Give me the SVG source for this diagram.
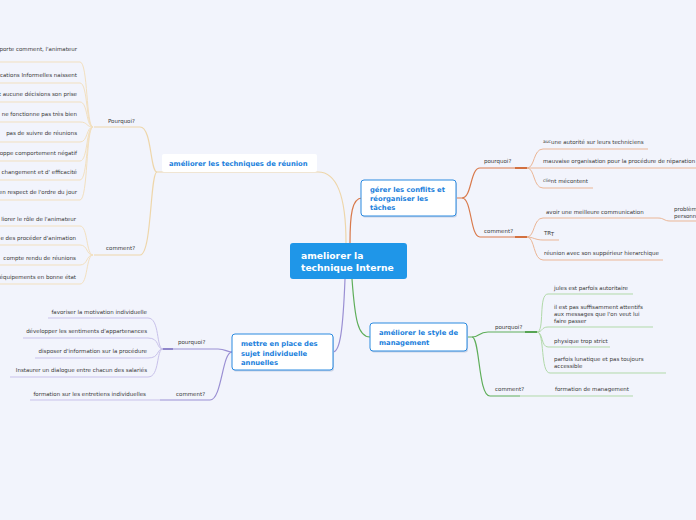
<svg xmlns="http://www.w3.org/2000/svg" width="696" height="520" viewBox="0 0 696 520">
<style>
.leaf{font-family:"DejaVu Sans",Verdana,sans-serif;font-size:5.5px;fill:#383838}
.end{text-anchor:end}
.nt{font-family:"DejaVu Sans",Verdana,sans-serif;font-size:6.8px;font-weight:bold;fill:#1b7fdc}
.ct{font-family:"DejaVu Sans",Verdana,sans-serif;font-size:9.2px;font-weight:bold;fill:#ffffff}
.box{fill:#ffffff;stroke:#2a8ae0;stroke-width:1}
.sh{fill:#c9d3e6}
.c{fill:none}
.be{stroke:#eed6aa;stroke-width:1.2}
.bel{stroke:#f2e0bf;stroke-width:1}
.or{stroke:#d97a4c;stroke-width:1.2}
.orl{stroke:#ebb696;stroke-width:1}
.gr{stroke:#5fae5a;stroke-width:1.2}
.grl{stroke:#b1d9a9;stroke-width:1}
.pu{stroke:#9a8fd3;stroke-width:1.2}
.pul{stroke:#c8c1ea;stroke-width:1}
</style>
<rect width="696" height="520" fill="#f2f4fc"/>
<g id="connectors">
<path class="c be" d="M346,243 C346,205 340,172 318,172 L157,172"/>
<path class="c be" d="M157,172 C150,172 152,127 140,127 L94,127"/>
<path class="c be" d="M157,172 C150,172 152,255 140,255 L94,255"/>
<path class="c bel" d="M0,62 L80,62 C88,62 86,127 93,127"/>
<path class="c bel" d="M0,83 L80,83 C88,83 86,127 93,127"/>
<path class="c bel" d="M0,102 L80,102 C88,102 86,127 93,127"/>
<path class="c bel" d="M0,122 L80,122 C88,122 86,127 93,127"/>
<path class="c bel" d="M0,142 L80,142 C88,142 86,127 93,127"/>
<path class="c bel" d="M0,161 L80,161 C88,161 86,127 93,127"/>
<path class="c bel" d="M0,180 L80,180 C88,180 86,127 93,127"/>
<path class="c bel" d="M0,200 L80,200 C88,200 86,127 93,127"/>
<path class="c bel" d="M0,226 L80,226 C88,226 86,255 93,255"/>
<path class="c bel" d="M0,245 L80,245 C88,245 86,255 93,255"/>
<path class="c bel" d="M0,265 L80,265 C88,265 86,255 93,255"/>
<path class="c bel" d="M0,284 L80,284 C88,284 86,255 93,255"/>
<path class="c or" d="M350,243 C350,215 352,198 362,198"/>
<path class="c or" d="M456,198 L462,198 C472,198 470,168 480,168 L527,168"/>
<path class="c or" d="M462,198 C472,198 470,237 480,237 L527,237"/>
<path class="c" stroke="#d2703f" stroke-width="1.8" d="M515,168 L527,168 M515,237 L527,237"/>
<path class="c orl" d="M527,168 C535,168 533,149 543,149 L648,149"/>
<path class="c orl" d="M527,168 L696,168"/>
<path class="c orl" d="M527,168 C535,168 533,188 543,188 L593,188"/>
<path class="c orl" d="M527,237 C535,237 533,218 543,218 L658,218 C664,218 664,221 670,221 L696,221"/>
<path class="c orl" d="M527,237 C533,237 535,240 543,240 L559,240"/>
<path class="c orl" d="M527,237 C535,237 533,260 543,260 L663,260"/>
<path class="c gr" d="M352,279 C355,320 358,337 370,337"/>
<path class="c gr" d="M467,337 L472,337 C480,337 478,332 488,332 L537,332"/>
<path class="c gr" d="M472,337 C480,337 478,396 490,396 L520,396"/>
<path class="c" stroke="#4f9f4a" stroke-width="1.8" d="M525,332 L537,332"/>
<path class="c grl" d="M520,396 L633,396"/>
<path class="c grl" d="M537,332 C545,332 538,294 548,294 L633,294"/>
<path class="c grl" d="M537,332 C543,332 541,327 548,327 L653,327"/>
<path class="c grl" d="M537,332 C543,332 541,347 548,347 L610,347"/>
<path class="c grl" d="M537,332 C545,332 540,373 550,373 L666,373"/>
<path class="c pu" d="M345,279 C343,330 340,352 333,352"/>
<path class="c pu" d="M232,352 C226,352 226,349 218,349 L162,349"/>
<path class="c pu" d="M232,352 C222,352 222,400 210,400 L160,400"/>
<path class="c" stroke="#8a7fc8" stroke-width="1.8" d="M162,349 L173,349"/>
<path class="c pul" d="M160,400 L30,400"/>
<path class="c pul" d="M163,349 C156,349 160,318 148,318 L48,318"/>
<path class="c pul" d="M163,349 C156,349 160,338 148,338 L23,338"/>
<path class="c pul" d="M163,349 C156,349 160,358 148,358 L35,358"/>
<path class="c pul" d="M163,349 C156,349 160,377 148,377 L10,377"/>
</g>
<g id="center">
<rect x="290" y="243" width="117" height="36" rx="3" fill="#1f96e8"/>
<text class="ct" x="301" y="259">ameliorer la</text>
<text class="ct" x="301" y="271">technique Interne</text>
</g>
<g id="n-reunion">
<rect x="162" y="154" width="155" height="18" rx="2" fill="#ffffff"/>
<text class="nt" x="169" y="165.5">améliorer les techniques de réunion</text>
</g>
<g id="n-conflits">
<rect class="sh" x="362" y="181.5" width="95" height="36" rx="3"/>
<rect class="box" x="361" y="180" width="95" height="36" rx="3"/>
<text class="nt" x="370" y="192">gérer les conflits et</text>
<text class="nt" x="370" y="201">réorganiser les</text>
<text class="nt" x="370" y="210">tâches</text>
</g>
<g id="n-management">
<rect class="sh" x="371" y="324.5" width="97" height="28" rx="3"/>
<rect class="box" x="370" y="323" width="97" height="28" rx="3"/>
<text class="nt" x="379" y="335">améliorer le style de</text>
<text class="nt" x="379" y="345">management</text>
</g>
<g id="n-sujet">
<rect class="sh" x="233" y="335.5" width="101" height="36" rx="3"/>
<rect class="box" x="232" y="334" width="101" height="36" rx="3"/>
<text class="nt" x="241" y="346">mettre en place des</text>
<text class="nt" x="241" y="355.5">sujet individuelle</text>
<text class="nt" x="241" y="365">annuelles</text>
</g>
<g id="n-reunion-pourquoi">
<text class="leaf" x="108" y="123">Pourquoi?</text>
<text class="leaf end" x="77" y="51">porte comment, l'animateur</text>
<text class="leaf end" x="77" y="77">cations Informelles naissent</text>
<text class="leaf end" x="77" y="96">t aucune décisions son prise</text>
<text class="leaf end" x="77" y="116">ne fonctionne pas très bien</text>
<text class="leaf end" x="77" y="135">pas de suivre de réunions</text>
<text class="leaf end" x="77" y="155">oppe comportement négatif</text>
<text class="leaf end" x="77" y="174">changement et d' efficacité</text>
<text class="leaf end" x="77" y="194">en respect de l'ordre du jour</text>
</g>
<g id="n-reunion-comment">
<text class="leaf" x="106" y="250">comment?</text>
<text class="leaf end" x="76" y="221">liorer le rôle de l'animateur</text>
<text class="leaf end" x="76" y="240">e des procéder d'animation</text>
<text class="leaf end" x="76" y="260">compte rendu de réunions</text>
<text class="leaf end" x="76" y="279">équipements en bonne état</text>
</g>
<g id="n-conflits-pourquoi">
<text class="leaf" x="484" y="163">pourquoi?</text>
<text class="leaf" x="543" y="144"><tspan font-size="4.5" dy="-1">auc</tspan><tspan dy="1">une autorité sur leurs techniciens</tspan></text>
<text class="leaf" x="543" y="163">mauvaise organisation pour la procédure de réparation</text>
<text class="leaf" x="543" y="183"><tspan font-size="4.5" dy="-1">clie</tspan><tspan dy="1">nt mécontent</tspan></text>
</g>
<g id="n-conflits-comment">
<text class="leaf" x="484" y="233">comment?</text>
<text class="leaf" x="546" y="214">avoir une meilleure communication</text>
<text class="leaf" x="674" y="211">problème</text>
<text class="leaf" x="674" y="218">personnel</text>
<text class="leaf" x="544" y="235">TR<tspan dy="1">T</tspan></text>
<text class="leaf" x="544" y="255">réunion avec son suppérieur hierarchique</text>
</g>
<g id="n-management-pourquoi">
<text class="leaf" x="495" y="329">pourquoi?</text>
<text class="leaf" x="554" y="290">jules est parfois autoritaire</text>
<text class="leaf" x="554" y="309">il est pas suffisamment attentifs</text>
<text class="leaf" x="554" y="316">aux messages que l'on veut  lui</text>
<text class="leaf" x="554" y="323">faire passer</text>
<text class="leaf" x="554" y="343">physique trop strict</text>
<text class="leaf" x="554" y="361">parfois lunatique et pas toujours</text>
<text class="leaf" x="554" y="368">accessible</text>
</g>
<g id="n-management-comment">
<text class="leaf" x="495" y="391">comment?</text>
<text class="leaf" x="555" y="391">formation de management</text>
</g>
<g id="n-sujet-pourquoi">
<text class="leaf" x="178" y="344">pourquoi?</text>
<text class="leaf end" x="147" y="314">favoriser la motivation individuelle</text>
<text class="leaf end" x="147" y="333">développer les sentiments d'appartenances</text>
<text class="leaf end" x="147" y="353">disposer d'information sur la procédure</text>
<text class="leaf end" x="147" y="372">Instaurer un dialogue entre chacun des salariés</text>
</g>
<g id="n-sujet-comment">
<text class="leaf" x="176" y="396">comment?</text>
<text class="leaf end" x="146" y="396">formation sur les entretiens individuelles</text>
</g>
</svg>
